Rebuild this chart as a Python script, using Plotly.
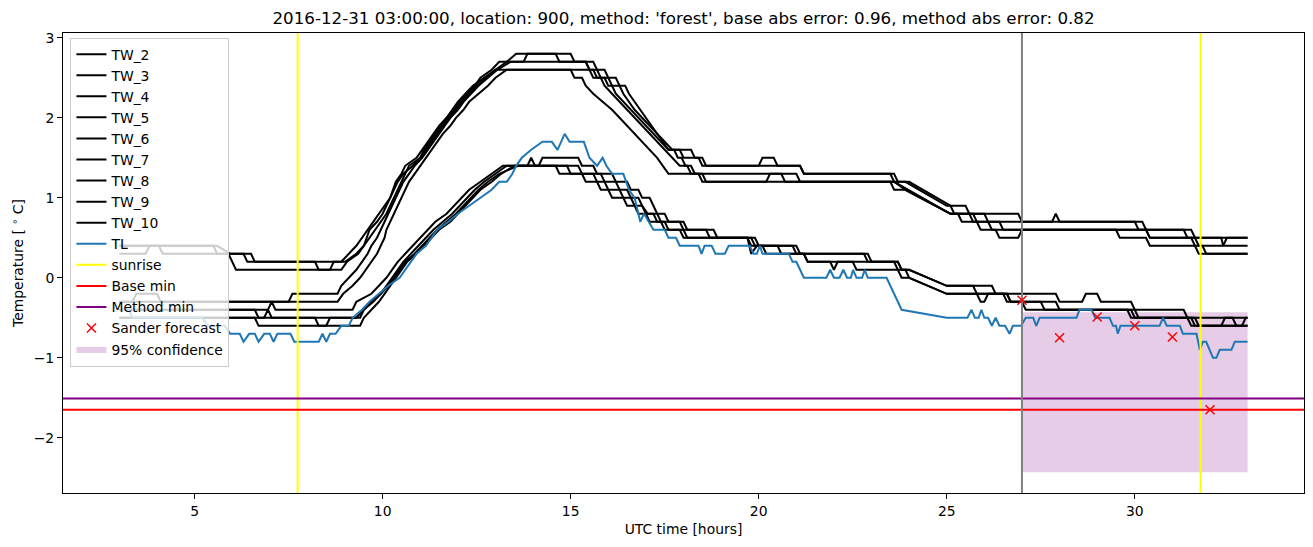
import plotly.graph_objects as go

# ---------------------------------------------------------------- data
# (hour, temperature) break points

TW_2 = [(3.0, 0.4), (5.6, 0.4), (5.95, 0.3), (6.3, 0.3), (6.4, 0.2), (8.2, 0.2), (8.3, 0.1), (8.6, 0.1),
        (8.7, 0.2), (9.0, 0.2), (9.3, 0.3), (9.5, 0.4), (9.65, 0.6), (9.85, 0.7), (10.0, 0.8), (10.2, 1.0),
        (10.35, 1.2), (10.5, 1.3), (10.6, 1.4), (10.9, 1.5), (11.05, 1.6), (11.2, 1.7), (11.35, 1.8),
        (11.5, 1.9), (11.7, 2.0), (11.85, 2.1), (12.0, 2.2), (12.2, 2.3), (12.4, 2.4), (12.7, 2.5),
        (13.0, 2.6), (13.3, 2.7), (13.55, 2.8), (14.6, 2.8), (14.7, 2.7), (15.4, 2.7), (15.5, 2.6),
        (15.7, 2.6), (15.8, 2.5), (16.0, 2.5), (16.1, 2.4), (16.3, 2.4), (16.4, 2.3), (16.55, 2.2),
        (16.7, 2.1), (16.9, 2.0), (17.1, 1.9), (17.3, 1.8), (17.5, 1.7), (17.7, 1.6), (18.2, 1.6),
        (18.3, 1.5), (18.5, 1.5), (18.6, 1.4), (20.0, 1.4), (20.1, 1.5), (20.4, 1.5), (20.5, 1.4),
        (21.1, 1.4), (21.2, 1.3), (23.5, 1.3), (23.6, 1.2), (23.9, 1.2), (25.0, 0.9), (25.5, 0.9),
        (25.6, 0.8), (26.9, 0.8), (27.0, 0.7), (27.8, 0.7), (27.9, 0.8), (28.0, 0.7), (30.2, 0.7),
        (30.3, 0.6), (31.5, 0.6), (31.6, 0.5), (33.0, 0.5)]
TW_3 = [(3.0, 0.3), (3.7, 0.3), (3.8, 0.4), (4.05, 0.4), (4.15, 0.3), (5.9, 0.3), (6.0, 0.2), (6.1, 0.1),
        (8.9, 0.1), (9.05, 0.2), (9.35, 0.3), (9.5, 0.4), (9.65, 0.5), (9.8, 0.6), (9.95, 0.7), (10.1, 0.8),
        (10.2, 0.9), (10.3, 1.0), (10.4, 1.1), (10.5, 1.2), (10.6, 1.3), (10.7, 1.4), (11.0, 1.5),
        (11.1, 1.6), (11.25, 1.7), (11.4, 1.8), (11.55, 1.9), (11.7, 2.0), (11.9, 2.1), (12.05, 2.2),
        (12.25, 2.3), (12.45, 2.4), (12.6, 2.5), (12.9, 2.6), (13.1, 2.7), (15.4, 2.7), (15.5, 2.6),
        (15.6, 2.6), (15.7, 2.5), (15.9, 2.5), (16.0, 2.4), (16.1, 2.4), (16.2, 2.3), (16.4, 2.2),
        (16.6, 2.1), (16.8, 2.0), (17.0, 1.9), (17.2, 1.8), (17.4, 1.7), (17.6, 1.6), (17.9, 1.6),
        (18.0, 1.5), (18.4, 1.5), (18.5, 1.4), (21.1, 1.4), (21.2, 1.3), (23.6, 1.3), (23.7, 1.2),
        (24.0, 1.2), (25.1, 0.9), (25.2, 0.8), (26.0, 0.8), (26.1, 0.7), (30.0, 0.7), (30.1, 0.6),
        (31.3, 0.6), (31.4, 0.5), (32.3, 0.5), (32.35, 0.4), (32.45, 0.5), (33.0, 0.5)]
TW_4 = [(3.0, -0.3), (3.35, -0.3), (3.45, -0.2), (4.0, -0.2), (4.1, -0.3), (7.5, -0.3), (7.6, -0.2),
        (8.8, -0.2), (8.9, -0.1), (9.1, 0.0), (9.3, 0.1), (9.45, 0.2), (9.6, 0.3), (9.7, 0.4), (9.85, 0.5),
        (9.95, 0.6), (10.05, 0.7), (10.15, 0.8), (10.25, 0.9), (10.35, 1.0), (10.45, 1.1), (10.55, 1.2),
        (10.7, 1.3), (10.85, 1.4), (11.05, 1.5), (11.2, 1.6), (11.35, 1.7), (11.5, 1.8), (11.65, 1.9),
        (11.8, 2.0), (12.0, 2.1), (12.15, 2.2), (12.35, 2.3), (12.55, 2.4), (12.8, 2.5), (13.05, 2.6),
        (13.4, 2.7), (13.75, 2.7), (13.85, 2.8), (15.0, 2.8), (15.1, 2.7), (15.6, 2.7), (15.7, 2.6),
        (15.9, 2.6), (16.0, 2.5), (16.2, 2.5), (16.3, 2.4), (16.45, 2.4), (16.55, 2.3), (16.7, 2.2),
        (16.85, 2.1), (17.0, 2.0), (17.15, 1.9), (17.3, 1.8), (17.45, 1.7), (17.6, 1.6), (17.75, 1.6),
        (17.85, 1.5), (17.95, 1.5), (18.05, 1.4), (18.2, 1.4), (18.3, 1.3), (21.0, 1.3), (21.1, 1.2),
        (23.6, 1.2), (25.1, 0.8), (25.6, 0.8), (25.7, 0.7), (26.4, 0.7), (26.5, 0.6), (30.3, 0.6),
        (30.4, 0.5), (31.5, 0.5), (31.6, 0.4), (33.0, 0.4)]
TW_5 = [(3.0, -0.3), (8.8, -0.3), (8.95, -0.2), (9.2, -0.1), (9.4, 0.0), (9.55, 0.1), (9.7, 0.2), (9.85, 0.3),
        (9.95, 0.4), (10.05, 0.5), (10.1, 0.6), (10.2, 0.7), (10.3, 0.8), (10.4, 0.9), (10.5, 1.0),
        (10.6, 1.1), (10.7, 1.2), (10.85, 1.3), (11.0, 1.4), (11.15, 1.5), (11.3, 1.6), (11.45, 1.7),
        (11.6, 1.8), (11.8, 1.9), (11.95, 2.0), (12.15, 2.1), (12.3, 2.2), (12.55, 2.3), (12.8, 2.4),
        (13.0, 2.5), (13.3, 2.6), (15.0, 2.6), (15.1, 2.5), (15.3, 2.5), (15.4, 2.4), (15.6, 2.3),
        (15.85, 2.2), (16.1, 2.1), (16.3, 2.0), (16.5, 1.9), (16.7, 1.8), (16.9, 1.7), (17.1, 1.6),
        (17.3, 1.5), (17.45, 1.4), (17.6, 1.3), (18.5, 1.3), (18.6, 1.2), (23.6, 1.2), (23.9, 1.1),
        (25.1, 0.8), (25.7, 0.8), (25.8, 0.7), (26.1, 0.7), (26.2, 0.6), (30.3, 0.6), (30.4, 0.5),
        (31.6, 0.5), (31.7, 0.4), (31.8, 0.4), (31.9, 0.3), (33.0, 0.3)]
TW_6 = [(3.0, 0.4), (5.5, 0.4), (5.6, 0.3), (6.5, 0.3), (6.6, 0.2), (8.9, 0.2), (9.1, 0.3), (9.3, 0.4),
        (9.45, 0.5), (9.6, 0.6), (9.75, 0.7), (9.9, 0.8), (10.05, 0.9), (10.2, 1.0), (10.3, 1.1), (10.4, 1.2),
        (10.55, 1.3), (10.8, 1.4), (11.0, 1.5), (11.15, 1.6), (11.3, 1.7), (11.45, 1.8), (11.6, 1.9),
        (11.75, 2.0), (11.95, 2.1), (12.1, 2.2), (12.3, 2.3), (12.5, 2.4), (12.75, 2.5), (13.0, 2.6),
        (15.5, 2.6), (15.6, 2.5), (15.8, 2.5), (15.9, 2.4), (16.1, 2.3), (16.3, 2.2), (16.5, 2.1),
        (16.7, 2.0), (16.9, 1.9), (17.1, 1.8), (17.3, 1.7), (17.5, 1.6), (17.7, 1.5), (17.9, 1.4),
        (18.1, 1.4), (18.2, 1.3), (18.4, 1.3), (18.5, 1.2), (20.2, 1.2), (20.3, 1.3), (20.6, 1.3),
        (20.7, 1.2), (23.5, 1.2), (23.6, 1.1), (23.9, 1.1), (25.1, 0.8), (25.3, 0.8), (25.4, 0.7),
        (25.8, 0.7), (25.9, 0.6), (26.3, 0.6), (26.4, 0.5), (26.9, 0.5), (27.0, 0.6), (29.5, 0.6),
        (29.6, 0.5), (30.3, 0.5), (30.4, 0.4), (31.6, 0.4), (31.7, 0.3), (33.0, 0.3)]
TW_7 = [(3.0, -0.4), (6.95, -0.4), (7.05, -0.3), (7.15, -0.4), (9.2, -0.4), (9.3, -0.3), (9.7, -0.2),
        (9.9, -0.1), (10.1, 0.0), (10.25, 0.1), (10.4, 0.2), (10.6, 0.3), (10.8, 0.4), (11.0, 0.5),
        (11.2, 0.6), (11.4, 0.7), (11.7, 0.8), (11.9, 0.9), (12.1, 1.0), (12.3, 1.1), (12.6, 1.2),
        (12.9, 1.3), (13.2, 1.4), (13.85, 1.4), (13.95, 1.5), (14.05, 1.4), (14.15, 1.4), (14.25, 1.5),
        (15.2, 1.5), (15.3, 1.4), (15.6, 1.4), (15.7, 1.3), (16.1, 1.3), (16.2, 1.2), (16.5, 1.2),
        (16.6, 1.1), (16.8, 1.1), (16.9, 1.0), (17.1, 1.0), (17.2, 0.9), (17.3, 0.8), (17.5, 0.8),
        (17.6, 0.7), (18.0, 0.7), (18.1, 0.6), (18.8, 0.6), (18.9, 0.5), (19.9, 0.5), (20.0, 0.4),
        (21.0, 0.4), (21.1, 0.3), (22.9, 0.3), (23.0, 0.2), (23.7, 0.2), (23.8, 0.1), (24.0, 0.1),
        (25.0, -0.1), (26.2, -0.1), (26.3, -0.2), (27.9, -0.2), (28.0, -0.3), (28.6, -0.3), (28.7, -0.2),
        (29.0, -0.2), (29.1, -0.3), (29.9, -0.3), (30.0, -0.4), (31.3, -0.4), (31.4, -0.5), (33.0, -0.5)]
TW_8 = [(3.0, -0.5), (8.2, -0.5), (8.3, -0.6), (8.5, -0.6), (8.6, -0.5), (9.4, -0.5), (9.5, -0.4),
        (9.7, -0.3), (9.95, -0.2), (10.15, -0.1), (10.3, 0.0), (10.45, 0.1), (10.6, 0.2), (10.85, 0.3),
        (11.05, 0.4), (11.25, 0.5), (11.45, 0.6), (11.7, 0.7), (11.95, 0.8), (12.15, 0.9), (12.35, 1.0),
        (12.55, 1.1), (12.8, 1.2), (13.1, 1.3), (13.6, 1.4), (14.9, 1.4), (15.0, 1.3), (15.6, 1.3),
        (15.7, 1.2), (15.9, 1.2), (16.0, 1.1), (16.3, 1.1), (16.4, 1.0), (16.6, 1.0), (16.7, 0.9),
        (16.9, 0.9), (17.0, 0.8), (17.2, 0.8), (17.3, 0.7), (17.5, 0.7), (17.6, 0.6), (17.9, 0.6),
        (18.0, 0.5), (19.7, 0.5), (19.8, 0.3), (19.95, 0.4), (20.1, 0.4), (20.2, 0.3), (21.2, 0.3),
        (21.3, 0.2), (23.6, 0.2), (23.7, 0.1), (23.9, 0.1), (24.0, 0.0), (25.0, -0.2), (25.8, -0.2),
        (25.9, -0.3), (26.0, -0.3), (26.1, -0.2), (26.5, -0.2), (26.6, -0.3), (27.5, -0.3), (27.6, -0.4),
        (29.9, -0.4), (30.0, -0.5), (31.4, -0.5), (31.5, -0.6), (32.3, -0.6), (32.4, -0.5), (32.6, -0.5),
        (32.7, -0.6), (32.85, -0.6), (32.95, -0.5), (33.0, -0.5)]
TW_9 = [(3.0, -0.5), (6.6, -0.5), (6.7, -0.6), (9.4, -0.6), (9.5, -0.5), (9.7, -0.4), (9.9, -0.3),
        (10.05, -0.2), (10.2, -0.1), (10.35, 0.0), (10.5, 0.1), (10.65, 0.2), (10.9, 0.3), (11.1, 0.4),
        (11.3, 0.5), (11.5, 0.6), (11.8, 0.7), (12.0, 0.8), (12.2, 0.9), (12.4, 1.0), (12.6, 1.1),
        (12.9, 1.2), (13.15, 1.3), (13.5, 1.4), (14.6, 1.4), (14.7, 1.3), (15.3, 1.3), (15.4, 1.2),
        (15.7, 1.2), (15.8, 1.1), (16.0, 1.1), (16.1, 1.0), (16.4, 1.0), (16.5, 0.9), (16.7, 0.9),
        (16.8, 0.8), (17.0, 0.8), (17.1, 0.7), (17.4, 0.7), (17.5, 0.6), (18.0, 0.6), (18.1, 0.5),
        (19.7, 0.5), (19.8, 0.4), (20.5, 0.4), (20.6, 0.3), (21.2, 0.3), (21.3, 0.2), (21.9, 0.2),
        (22.0, 0.1), (22.1, 0.2), (22.5, 0.2), (22.6, 0.1), (23.7, 0.1), (23.8, 0.0), (24.0, 0.0),
        (25.0, -0.2), (26.6, -0.2), (26.7, -0.3), (27.0, -0.3), (27.1, -0.4), (29.8, -0.4), (29.9, -0.5),
        (31.5, -0.5), (31.6, -0.6), (33.0, -0.6)]
TW_10 = [(3.0, -0.4), (6.6, -0.4), (6.7, -0.5), (6.85, -0.5), (6.95, -0.4), (7.05, -0.5), (9.3, -0.5),
         (9.5, -0.4), (9.75, -0.3), (9.95, -0.2), (10.1, -0.1), (10.25, 0.0), (10.4, 0.1), (10.55, 0.2),
         (10.75, 0.3), (10.95, 0.4), (11.15, 0.5), (11.35, 0.6), (11.6, 0.7), (11.85, 0.8), (12.05, 0.9),
         (12.25, 1.0), (12.45, 1.1), (12.7, 1.2), (13.0, 1.3), (13.3, 1.4), (15.2, 1.4), (15.3, 1.3),
         (15.8, 1.3), (15.9, 1.2), (16.2, 1.2), (16.3, 1.1), (16.5, 1.1), (16.6, 1.0), (16.8, 1.0),
         (16.9, 0.9), (17.05, 0.8), (17.3, 0.8), (17.4, 0.7), (17.9, 0.7), (18.0, 0.6), (18.6, 0.6),
         (18.7, 0.5), (19.8, 0.5), (19.9, 0.4), (20.9, 0.4), (21.0, 0.3), (22.8, 0.3), (22.9, 0.2),
         (23.7, 0.2), (23.8, 0.1), (24.0, 0.1), (25.0, -0.1), (25.7, -0.1), (25.8, -0.2), (26.6, -0.2),
         (26.7, -0.3), (27.9, -0.3), (28.0, -0.4), (30.0, -0.4), (30.1, -0.5), (31.6, -0.5), (31.7, -0.6),
         (33.0, -0.6)]
TL = [(3.0, -0.4), (3.25, -0.4), (3.35, -0.5), (5.2, -0.5), (5.35, -0.6), (5.8, -0.6), (5.95, -0.7),
      (6.2, -0.7), (6.3, -0.8), (6.45, -0.7), (6.6, -0.7), (6.7, -0.8), (6.85, -0.7), (7.0, -0.7),
      (7.1, -0.8), (7.2, -0.7), (7.55, -0.7), (7.65, -0.8), (8.3, -0.8), (8.4, -0.7), (8.5, -0.8),
      (8.6, -0.7), (8.75, -0.7), (8.9, -0.6), (9.1, -0.6), (9.2, -0.5), (9.45, -0.4), (9.65, -0.3),
      (9.9, -0.2), (10.15, -0.1), (10.45, 0.0), (10.6, 0.1), (10.75, 0.2), (10.9, 0.3), (11.15, 0.4),
      (11.3, 0.5), (11.45, 0.6), (11.75, 0.7), (12.0, 0.8), (12.3, 0.9), (12.6, 1.0), (12.9, 1.1),
      (13.1, 1.2), (13.3, 1.2), (13.45, 1.3), (13.55, 1.4), (13.7, 1.5), (13.95, 1.6), (14.25, 1.7),
      (14.5, 1.7), (14.65, 1.6), (14.84, 1.8), (14.97, 1.7), (15.35, 1.7), (15.5, 1.5), (15.7, 1.4),
      (15.85, 1.5), (15.95, 1.4), (16.1, 1.3), (16.4, 1.3), (16.55, 1.1), (16.7, 1.0), (16.8, 0.8),
      (16.85, 0.7), (16.95, 0.8), (17.2, 0.6), (17.5, 0.6), (17.6, 0.5), (17.8, 0.5), (17.9, 0.4),
      (18.4, 0.4), (18.48, 0.3), (18.56, 0.4), (18.75, 0.4), (18.85, 0.3), (19.1, 0.3), (19.2, 0.4),
      (19.76, 0.4), (19.86, 0.3), (19.95, 0.3), (20.03, 0.4), (20.1, 0.3), (20.8, 0.3), (20.9, 0.2),
      (21.0, 0.2), (21.1, 0.1), (21.2, 0.0), (21.8, 0.0), (21.9, 0.1), (22.0, 0.0), (22.15, 0.0),
      (22.25, 0.1), (22.35, 0.0), (22.45, 0.0), (22.51, 0.1), (22.6, 0.0), (22.75, 0.0), (22.82, 0.1),
      (22.9, 0.0), (23.4, 0.0), (23.5, -0.1), (23.6, -0.2), (23.7, -0.3), (23.8, -0.4), (25.0, -0.5),
      (25.55, -0.5), (25.66, -0.4), (25.75, -0.5), (25.85, -0.5), (25.92, -0.4), (26.0, -0.5),
      (26.1, -0.5), (26.2, -0.6), (26.3, -0.5), (26.4, -0.6), (26.55, -0.6), (26.67, -0.7), (26.76, -0.6),
      (26.98, -0.6), (27.1, -0.5), (27.3, -0.5), (27.38, -0.6), (27.47, -0.5), (28.45, -0.5),
      (28.53, -0.4), (28.85, -0.4), (28.95, -0.5), (29.33, -0.5), (29.42, -0.6), (29.5, -0.6),
      (29.55, -0.7), (29.62, -0.6), (30.66, -0.6), (30.75, -0.5), (30.85, -0.6), (31.2, -0.6),
      (31.28, -0.7), (31.64, -0.7), (31.73, -0.9), (31.81, -0.8), (31.9, -0.8), (31.99, -0.9),
      (32.08, -1.0), (32.17, -1.0), (32.26, -0.9), (32.57, -0.9), (32.66, -0.8), (33.0, -0.8)]

TW_SERIES = {"TW_2": TW_2, "TW_3": TW_3, "TW_4": TW_4, "TW_5": TW_5, "TW_6": TW_6,
             "TW_7": TW_7, "TW_8": TW_8, "TW_9": TW_9, "TW_10": TW_10}

SUNRISE = [7.74, 31.75]
BASE_MIN = -1.65
METHOD_MIN = -1.51
FORECAST_START = 27.0

FC_HOURS = [27, 28, 29, 30, 31, 32]
FC_VALUES = [-0.28, -0.75, -0.49, -0.60, -0.74, -1.65]

CONF_HOURS = [27.0, 33.0]
CONF_LOW = -2.43
CONF_HIGH = -0.43

X_RANGE = [1.5, 34.5]
Y_RANGE = [-2.69, 3.06]

TITLE = ("2016-12-31 03:00:00, location: 900, method: 'forest', "
         "base abs error: 0.96, method abs error: 0.82")

FONT = "DejaVu Sans"

# ---------------------------------------------------------------- figure
fig = go.Figure()

# confidence band first so that it sits under the lines
fig.add_trace(go.Scatter(
    x=[CONF_HOURS[0], CONF_HOURS[1], CONF_HOURS[1], CONF_HOURS[0], CONF_HOURS[0]],
    y=[CONF_LOW, CONF_LOW, CONF_HIGH, CONF_HIGH, CONF_LOW],
    fill="toself", fillcolor="rgba(128,0,128,0.2)", mode="lines",
    line=dict(width=0), name="95% confidence", legendrank=15, hoverinfo="skip",
))

rank = 1
for name, pts in TW_SERIES.items():
    hours, temps = zip(*pts)
    fig.add_trace(go.Scatter(x=hours, y=temps, mode="lines", name=name,
                             line=dict(color="black", width=2), legendrank=rank))
    rank += 1

hours, temps = zip(*TL)
fig.add_trace(go.Scatter(x=hours, y=temps, mode="lines", name="TL",
                         line=dict(color="#1f77b4", width=2), legendrank=10))

# sunrise vertical lines (one legend entry)
sx, sy = [], []
for h in SUNRISE:
    sx += [h, h, None]
    sy += [Y_RANGE[0], Y_RANGE[1], None]
fig.add_trace(go.Scatter(x=sx, y=sy, mode="lines", name="sunrise",
                         line=dict(color="yellow", width=2), legendrank=11))

fig.add_trace(go.Scatter(x=X_RANGE, y=[BASE_MIN, BASE_MIN], mode="lines", name="Base min",
                         line=dict(color="red", width=2), legendrank=12))
fig.add_trace(go.Scatter(x=X_RANGE, y=[METHOD_MIN, METHOD_MIN], mode="lines", name="Method min",
                         line=dict(color="purple", width=2), legendrank=13))
fig.add_trace(go.Scatter(x=[FORECAST_START, FORECAST_START], y=Y_RANGE, mode="lines",
                         line=dict(color="gray", width=2), showlegend=False))

fig.add_trace(go.Scatter(x=FC_HOURS, y=FC_VALUES, mode="markers", name="Sander forecast",
                         marker=dict(symbol="x-thin", size=9, color="red",
                                     line=dict(width=1.5, color="red")),
                         legendrank=14))

axis_style = dict(showline=True, mirror=True, linecolor="black", linewidth=1,
                  ticks="outside", ticklen=5, tickwidth=1, tickcolor="black",
                  showgrid=False, zeroline=False, automargin=False,
                  tickfont=dict(family=FONT, size=13.9, color="black"))

fig.update_layout(
    width=1313, height=547,
    margin=dict(l=63, r=9, t=33, b=54),
    plot_bgcolor="white", paper_bgcolor="white",
    font=dict(family=FONT, size=13.9, color="black"),
    title=dict(text=TITLE, x=0.5, xref="paper", xanchor="center",
               y=1 - 18 / 547, yref="container", yanchor="middle",
               font=dict(family=FONT, size=16.7, color="black")),
    xaxis=dict(range=X_RANGE, tickvals=[5, 10, 15, 20, 25, 30],
               title=dict(text="UTC time [hours]", standoff=6,
                          font=dict(family=FONT, size=13.9)),
               **axis_style),
    yaxis=dict(range=Y_RANGE, tickvals=[-2, -1, 0, 1, 2, 3],
               title=dict(text="Temperature [ <sup>∘</sup> C]", standoff=6,
                          font=dict(family=FONT, size=13.9)),
               **axis_style),
    legend=dict(x=0.006, y=0.99, xanchor="left", yanchor="top",
                bgcolor="rgba(255,255,255,0.8)", bordercolor="#cccccc", borderwidth=1,
                font=dict(family=FONT, size=13.9, color="black"),
                traceorder="normal"),
    showlegend=True,
)

# the page body has a default 8px margin; drop it so the figure fills the window
fig.write_html("out.html", config={"displayModeBar": False},
               post_script="document.body.style.margin='0';")
